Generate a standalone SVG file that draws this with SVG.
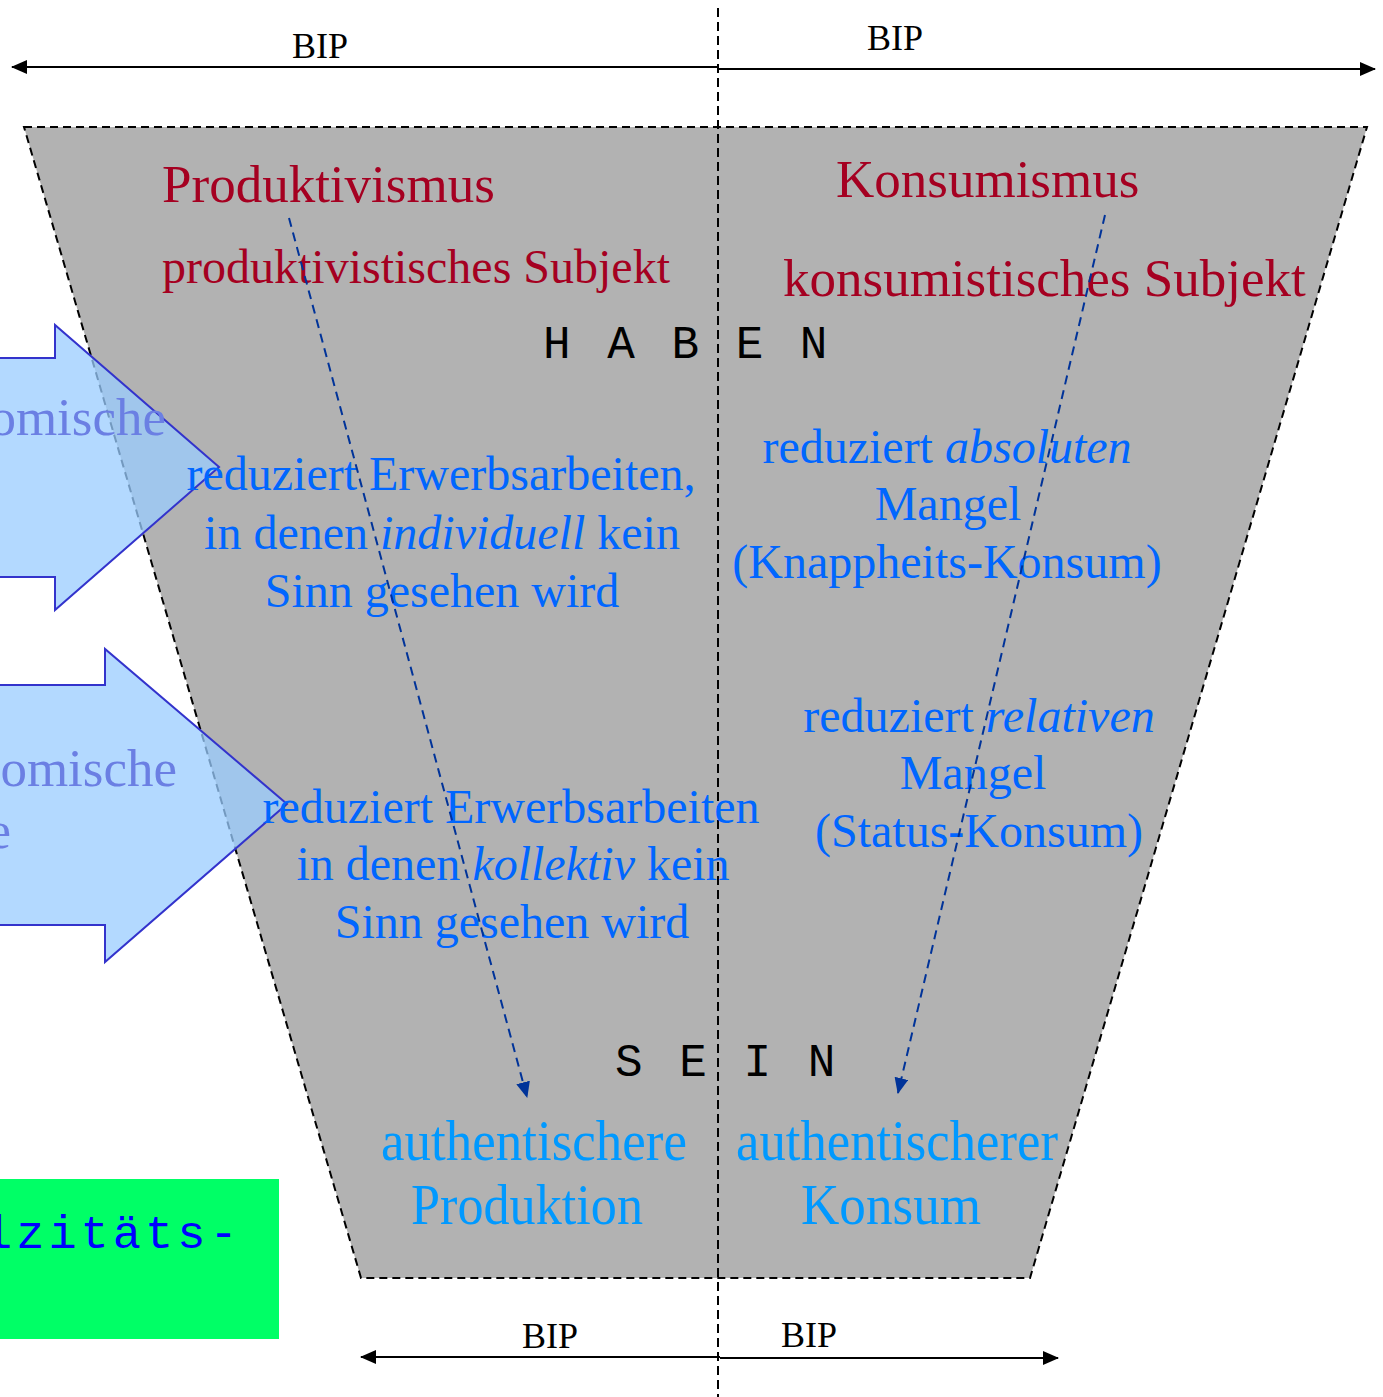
<svg xmlns="http://www.w3.org/2000/svg" width="1383" height="1397" viewBox="0 0 1383 1397">
<style>
.serif{font-family:"Liberation Serif","Times New Roman",serif}
.mono{font-family:"Liberation Mono","Courier New",monospace}
.red{fill:#a50021;font-size:53px}
.blue{fill:#0066ff;font-size:48px;text-anchor:middle}
.auth{fill:#0099ff;font-size:58px;text-anchor:middle}
.bip{fill:#000;font-size:36px}
.it{font-style:italic}
.big{fill:#99ccff;fill-opacity:0.75;stroke:#3333cc;stroke-width:2}
.ghost{fill:#6b7fe3;font-size:53px}
.dash{stroke:#003399;stroke-width:2;stroke-dasharray:9,6;fill:none}
.axis{stroke:#000;stroke-width:2;fill:none}
.letters{fill:#000;font-size:46px;letter-spacing:4.5px}
</style>
<defs>
<marker id="ah" markerUnits="userSpaceOnUse" markerWidth="16" markerHeight="14" refX="15" refY="7" orient="auto">
<path d="M0,0 L16,7 L0,14 Z" fill="#000"/>
</marker>
<marker id="bh" markerUnits="userSpaceOnUse" markerWidth="16" markerHeight="14" refX="15" refY="7" orient="auto">
<path d="M0,0 L16,7 L0,14 Z" fill="#003399"/>
</marker>
</defs>
<rect width="1383" height="1397" fill="#fff"/>
<g id="funnel">
<polygon points="24,127 1367,127 1030,1278 361,1278" fill="#b2b2b2" stroke="#000" stroke-width="2" stroke-dasharray="8,5"/>
</g>
<g id="divider">
<line x1="718" y1="8" x2="718" y2="1397" stroke="#000" stroke-width="2" stroke-dasharray="9,5"/>
</g>
<g id="arrow-left-1">
<polygon class="big" points="-10,358 55,358 55,325 219,467 55,610 55,577 -10,577"/>
<text class="serif ghost" x="166" y="435" text-anchor="end">omische</text>
</g>
<g id="arrow-left-2">
<polygon class="big" points="-10,685 105,685 105,649 287,804 105,962 105,925 -10,925"/>
<text class="serif ghost" x="177" y="786" text-anchor="end">omische</text>
<text class="serif ghost" x="11" y="848" text-anchor="end">e</text>
</g>
<g id="green-box">
<rect x="-2" y="1179" width="281" height="160" fill="#00ff66"/>
<text class="mono" x="-16" y="1248" font-size="47" letter-spacing="4" fill="#0000ff">lzitäts-</text>
</g>
<g id="produktivismus">
<text class="serif red" x="162" y="202">Produktivismus</text>
<text class="serif red" x="162" y="283" style="font-size:48px">produktivistisches Subjekt</text>
</g>
<g id="konsumismus">
<text class="serif red" x="836" y="197">Konsumismus</text>
<text class="serif red" x="783" y="296">konsumistisches Subjekt</text>
</g>
<g id="haben">
<text class="mono letters" x="543" y="358">H A B E N</text>
</g>
<g id="sein">
<text class="mono letters" x="615" y="1076">S E I N</text>
</g>
<g id="individuell">
<text class="serif blue" x="441" y="490">reduziert Erwerbsarbeiten,</text>
<text class="serif blue" x="442" y="549">in denen <tspan class="it">individuell</tspan> kein</text>
<text class="serif blue" x="442" y="607">Sinn gesehen wird</text>
</g>
<g id="kollektiv">
<text class="serif blue" x="511" y="823">reduziert Erwerbsarbeiten</text>
<text class="serif blue" x="513" y="880">in denen <tspan class="it">kollektiv</tspan> kein</text>
<text class="serif blue" x="512" y="938">Sinn gesehen wird</text>
</g>
<g id="absolut">
<text class="serif blue" x="947" y="463">reduziert <tspan class="it">absoluten</tspan></text>
<text class="serif blue" x="948" y="520">Mangel</text>
<text class="serif blue" x="947" y="578">(Knappheits-Konsum)</text>
</g>
<g id="relativ">
<text class="serif blue" x="979" y="732">reduziert <tspan class="it">relativen</tspan></text>
<text class="serif blue" x="973" y="789">Mangel</text>
<text class="serif blue" x="979" y="847">(Status-Konsum)</text>
</g>
<g id="auth-produktion">
<text class="serif auth" x="534" y="1160" textLength="306" lengthAdjust="spacingAndGlyphs">authentischere</text>
<text class="serif auth" x="527" y="1224" textLength="232" lengthAdjust="spacingAndGlyphs">Produktion</text>
</g>
<g id="auth-konsum">
<text class="serif auth" x="897" y="1160" textLength="322" lengthAdjust="spacingAndGlyphs">authentischerer</text>
<text class="serif auth" x="891" y="1224" textLength="180" lengthAdjust="spacingAndGlyphs">Konsum</text>
</g>
<g id="bip-labels">
<text class="serif bip" x="292" y="58">BIP</text>
<text class="serif bip" x="867" y="50">BIP</text>
<text class="serif bip" x="522" y="1348">BIP</text>
<text class="serif bip" x="781" y="1347">BIP</text>
</g>
<g id="connectors">
<line class="axis" x1="718" y1="67" x2="12" y2="67" marker-end="url(#ah)"/>
<line class="axis" x1="718" y1="69" x2="1375" y2="69" marker-end="url(#ah)"/>
<line class="axis" x1="720" y1="1357" x2="361" y2="1357" marker-end="url(#ah)"/>
<line class="axis" x1="720" y1="1358" x2="1058" y2="1358" marker-end="url(#ah)"/>
<line class="dash" x1="289" y1="218" x2="527" y2="1097" marker-end="url(#bh)"/>
<line class="dash" x1="1105" y1="215" x2="898" y2="1093" marker-end="url(#bh)"/>
</g>
</svg>
